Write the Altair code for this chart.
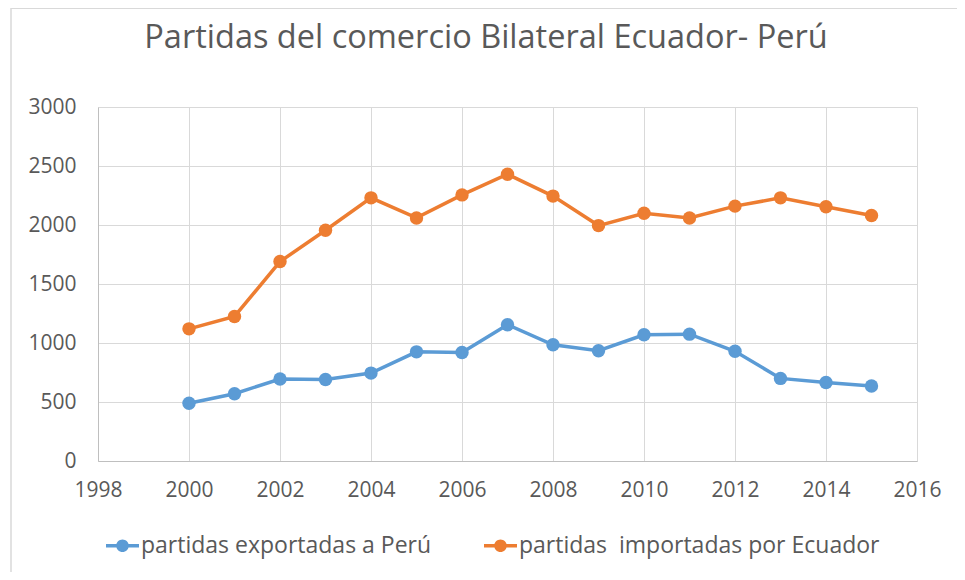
import altair as alt
import pandas as pd

years = list(range(2000, 2016))
exportadas = [490, 570, 695, 690, 745, 925, 920, 1155, 985, 935, 1070, 1075, 930, 700, 665, 635]
importadas = [1120, 1225, 1690, 1955, 2230, 2060, 2255, 2430, 2245, 1995, 2100, 2060, 2160, 2230, 2155, 2080]
series_names = ["partidas exportadas a Perú", "partidas\u00a0 importadas por Ecuador"]
series_colors = ["#5B9BD5", "#ED7D31"]
x_ticks = list(range(1998, 2017, 2))
y_ticks = [0, 500, 1000, 1500, 2000, 2500, 3000]
title_text = "Partidas del comercio Bilateral Ecuador- Perú"

rows = []
for name, vals in zip(series_names, [exportadas, importadas]):
    for yr, v in zip(years, vals):
        rows.append({"year": yr, "value": v, "serie": name})
df = pd.DataFrame(rows)

FONT = "Open Sans"
TXT = "#595959"
W, H = 819, 354

sym = ("M -1 -0.1 L 1 -0.1 L 1 0.1 L -1 0.1 Z "
       "M 0.38 0 A 0.38 0.38 0 1 1 -0.38 0 A 0.38 0.38 0 1 1 0.38 0 Z")

x_enc = alt.X("year:Q",
              scale=alt.Scale(domain=[1998, 2016], nice=False, zero=False),
              axis=alt.Axis(values=x_ticks, format="d", title=None, grid=True,
                            ticks=False, labelPadding=18, labelFlush=False,
                            domainColor="#bfbfbf", gridColor="#d9d9d9",
                            labelFontSize=21, labelColor=TXT, labelFont=FONT))
y_enc = alt.Y("value:Q",
              scale=alt.Scale(domain=[0, 3000], nice=False),
              axis=alt.Axis(values=y_ticks, format="d", title=None, grid=True, ticks=False,
                            labelPadding=22, domainColor="#bfbfbf",
                            gridColor="#d9d9d9", labelFontSize=21, labelColor=TXT,
                            labelFont=FONT))
color_enc = alt.Color("serie:N",
                      scale=alt.Scale(domain=series_names, range=series_colors),
                      sort=series_names,
                      legend=alt.Legend(title=None, orient="none", direction="horizontal",
                                        legendX=8, legendY=422, symbolType=sym,
                                        symbolSize=1089, symbolStrokeWidth=0,
                                        labelFontSize=23, labelColor=TXT, labelFont=FONT,
                                        labelOffset=2, columnPadding=52, labelLimit=0,
                                        symbolOpacity=1))

base = alt.Chart(df)
lines = base.mark_line(strokeWidth=3.5).encode(x=x_enc, y=y_enc, color=color_enc)
points = base.mark_point(filled=True, size=180, opacity=1).encode(x=x_enc, y=y_enc, color=color_enc)

one = pd.DataFrame({"t": [title_text]})
title = alt.Chart(one).mark_text(fontSize=32.5, font=FONT, color=TXT, align="center",
                                 baseline="middle").encode(
    text="t:N", x=alt.value(388), y=alt.value(-69))

border_top = alt.Chart(one).mark_rule(color="#d9d9d9", strokeWidth=2).encode(
    x=alt.value(-87), x2=alt.value(W + 40), y=alt.value(-99))
border_left = alt.Chart(one).mark_rule(color="#d9d9d9", strokeWidth=1.5).encode(
    x=alt.value(-87), y=alt.value(-99), y2=alt.value(H + 111))

chart = alt.layer(border_top, border_left, title, lines, points).properties(
    width=W, height=H,
    autosize=alt.AutoSizeParams(type="none"),
    padding={"left": 90, "top": 99, "right": 40, "bottom": 111},
).configure_view(stroke=None)

chart.save("out.html", embed_options={"renderer": "svg", "actions": False})
